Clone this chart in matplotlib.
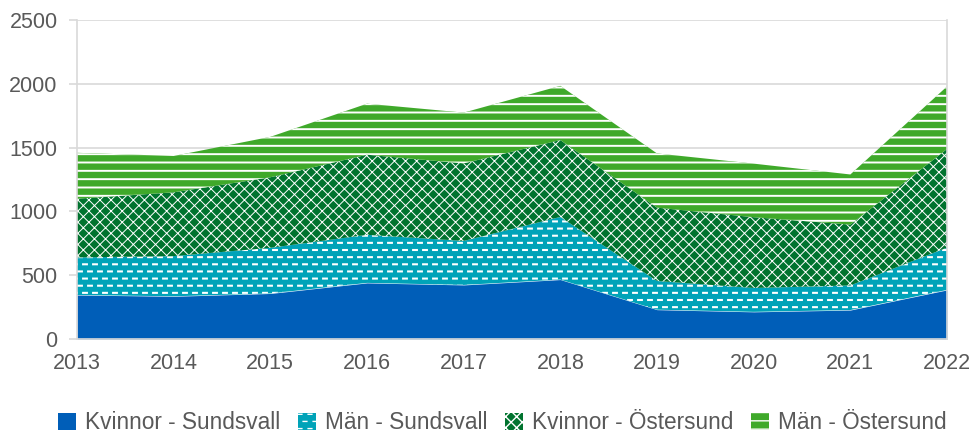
import matplotlib
matplotlib.use("Agg")
import matplotlib.pyplot as plt
import matplotlib.hatch as mhatch
from matplotlib.path import Path
import numpy as np

years = [2013, 2014, 2015, 2016, 2017, 2018, 2019, 2020, 2021, 2022]
kvinnor_sundsvall = [345, 335, 357, 440, 424, 466, 230, 213, 227, 385]
man_sundsvall = [295, 315, 358, 377, 345, 491, 225, 187, 193, 332]
kvinnor_ostersund = [460, 500, 553, 628, 608, 603, 575, 555, 477, 773]
man_ostersund = [360, 285, 317, 400, 398, 425, 425, 420, 393, 490]

labels = ["Kvinnor - Sundsvall", "Män - Sundsvall", "Kvinnor - Östersund", "Män - Östersund"]
colors = ["#005EB8", "#00A3B8", "#00732E", "#3FA92A"]
hatches = [None, ".", "xxx", "--"]
hatch_lw = [1.0, 1.5, 0.7, 1.4]
yticks = [0, 500, 1000, 1500, 2000, 2500]


class StaggeredDashes(mhatch.HatchPatternBase):
    """Short white dashes in a staggered (brick) layout."""
    def __init__(self, hatch, density):
        self.n = hatch.count('.')
        self.rows = 14
        self.cols = 10
        self.dash = 0.019
        if self.n == 0:
            self.num_vertices = 0
        else:
            count = 0
            for r in range(self.rows + 1):
                count += (self.cols + 1) if r % 2 == 0 else self.cols
            self.num_vertices = count * 2

    def set_vertices_and_codes(self, vertices, codes):
        vs = []
        cs = []
        for r in range(self.rows + 1):
            y = r / self.rows
            if r % 2 == 0:
                xs = np.linspace(0, 1, self.cols + 1)
            else:
                xs = np.linspace(0.5 / self.cols, 1 - 0.5 / self.cols, self.cols)
            for x in xs:
                vs.append([x - self.dash, y])
                vs.append([x + self.dash, y])
                cs.extend([Path.MOVETO, Path.LINETO])
        vertices[:] = np.array(vs)
        codes[:] = np.array(cs)


mhatch._hatch_types = [t for t in mhatch._hatch_types
                       if t is not mhatch.SmallFilledCircles] + [StaggeredDashes]

plt.rcParams["font.family"] = ["Liberation Sans", "DejaVu Sans"]

fig = plt.figure(figsize=(9.73, 4.38), dpi=100)
ax = fig.add_axes([0.0791, 0.226, 0.8942, 0.728])

series = [kvinnor_sundsvall, man_sundsvall, kvinnor_ostersund, man_ostersund]
base = np.zeros(len(years))
handles = []
for vals, lab, col, h, hl in zip(series, labels, colors, hatches, hatch_lw):
    top = base + np.array(vals)
    with plt.rc_context({"hatch.linewidth": hl}):
        p = ax.fill_between(years, base, top, facecolor=col,
                            edgecolor="white" if h else col,
                            hatch=h, linewidth=0, label=lab, zorder=2)
    if hasattr(p, "set_hatch_linewidth"):
        p.set_hatch_linewidth(hl)
    handles.append(p)
    base = top

ax.set_xlim(years[0], years[-1])
ax.set_ylim(0, 2500)
ax.set_yticks(yticks)
ax.set_xticks(years)
ax.grid(axis="y", color="#D9D9D9", linewidth=1.2, zorder=0)
ax.spines["top"].set_visible(False)
for s in ["left", "right", "bottom"]:
    ax.spines[s].set_color("#D9D9D9")
    ax.spines[s].set_linewidth(1.2)
ax.tick_params(axis="y", length=6, color="#D9D9D9", width=1.2, pad=8, labelsize=15.5, labelcolor="#595959")
ax.tick_params(axis="x", length=0, pad=10, labelsize=15.5, labelcolor="#595959")

leg = fig.legend(handles=handles, labels=labels, loc="center", bbox_to_anchor=(0.516, 0.035),
                 ncol=4, frameon=False, fontsize=16.3, handlelength=0.82, handleheight=0.82,
                 handletextpad=0.37, columnspacing=0.78, labelcolor="#595959",
                 borderpad=0, borderaxespad=0)

fig.savefig("out.png", dpi=100)
